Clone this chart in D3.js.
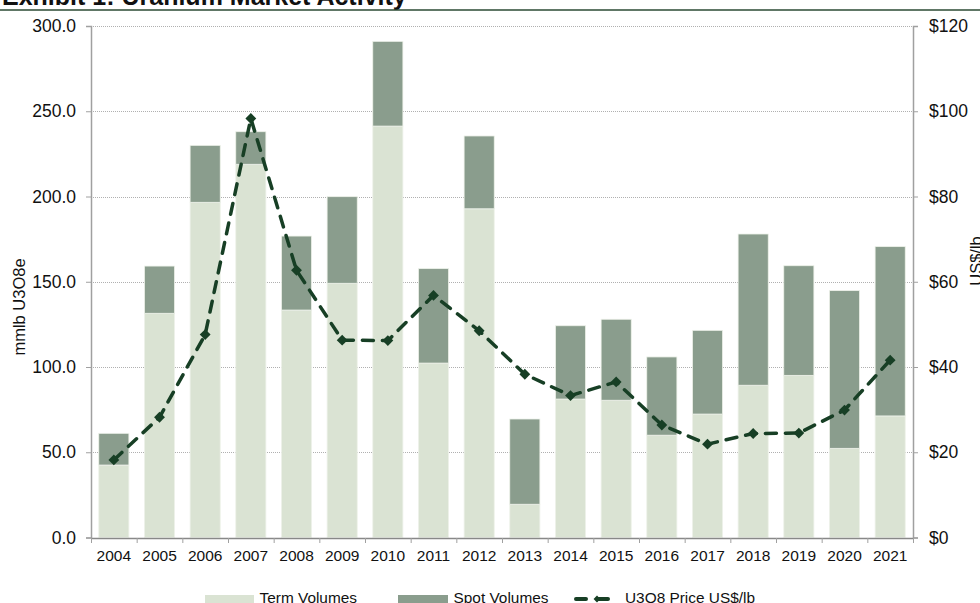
<!DOCTYPE html>
<html>
<head>
<meta charset="utf-8">
<script src="https://cdn.jsdelivr.net/npm/d3@7"></script>
<style>
  body { margin: 0; background: #fff; }
  svg { display: block; font-family: Arial, "Liberation Sans", sans-serif; }
</style>
</head>
<body>
<div id="chart"></div>
<script>
// chart data
const years = ["2004","2005","2006","2007","2008","2009","2010","2011","2012",
               "2013","2014","2015","2016","2017","2018","2019","2020","2021"];
const termVolumes = [42.5, 131.5, 196.6, 218.9, 133.4, 149.1, 241.3, 102.3, 192.8,
                     19.5, 81.2, 80.5, 60.0, 72.4, 89.3, 95.1, 52.3, 71.3];
const spotVolumes = [18.6, 27.7, 33.4, 19.1, 43.4, 50.8, 49.7, 55.4, 42.7,
                     50.0, 43.0, 47.5, 45.9, 49.1, 88.7, 64.3, 92.5, 99.3];
const u3o8Price = [18.2, 28.2, 47.6, 98.3, 62.7, 46.3, 46.2, 56.8, 48.5,
                   38.3, 33.3, 36.5, 26.4, 21.9, 24.4, 24.5, 29.9, 41.6];
const leftTicks = [0, 50, 100, 150, 200, 250, 300];
const rightTicks = [0, 20, 40, 60, 80, 100, 120];

const width = 980;
const height = 603;
const margin = {left: 91, right: 67, top: 26, bottom: 65};

const termColor = "#dae3d3";
const spotColor = "#8a9d8d";
const lineColor = "#173f25";
const axisColor = "#a0a0a0";
const textColor = "#111";

const svg = d3.select("#chart")
  .append("svg")
  .attr("width", width)
  .attr("height", height);

// title (cropped at the top in the original)
svg.append("text")
  .attr("x", 2)
  .attr("y", 4.5)
  .style("font-size", "25px")
  .style("font-weight", "bold")
  .style("fill", textColor)
  .text("Exhibit 1: Uranium Market Activity");

svg.append("line")
  .attr("x1", 0).attr("x2", width)
  .attr("y1", 10).attr("y2", 10)
  .attr("stroke", "#2b4a33")
  .attr("stroke-width", 1.5);

const x = d3.scaleBand()
  .domain(years)
  .range([margin.left, width - margin.right])
  .paddingInner(0.34)
  .paddingOuter(0.17);

const yLeft = d3.scaleLinear()
  .domain([0, 300])
  .range([height - margin.bottom - 0.5, margin.top]);

const yRight = d3.scaleLinear()
  .domain([0, 120])
  .range([height - margin.bottom - 0.5, margin.top]);

// gridlines
svg.append("g")
  .selectAll("line")
  .data(leftTicks.slice(1))
  .join("line")
  .attr("x1", margin.left)
  .attr("x2", width - margin.right)
  .attr("y1", d => Math.round(yLeft(d)) + 0.5)
  .attr("y2", d => Math.round(yLeft(d)) + 0.5)
  .attr("stroke", "#b0b0b0")
  .attr("stroke-width", 1)
  .attr("stroke-dasharray", "1,1");

// stacked bars
const stackData = years.map((y, i) => ({year: y, term: termVolumes[i], spot: spotVolumes[i]}));
const series = d3.stack().keys(["term", "spot"])(stackData);
const colors = {term: termColor, spot: spotColor};

svg.append("g")
  .selectAll("g")
  .data(series)
  .join("g")
  .attr("fill", d => colors[d.key])
  .selectAll("rect")
  .data(d => d)
  .join("rect")
  .attr("x", d => x(d.data.year))
  .attr("y", d => yLeft(d[1]))
  .attr("width", x.bandwidth())
  .attr("height", d => yLeft(d[0]) - yLeft(d[1]))
  .attr("stroke", "#eef2ea")
  .attr("stroke-width", 0.8);

// left axis
const leftAxis = svg.append("g")
  .attr("transform", `translate(${margin.left},0)`)
  .call(d3.axisLeft(yLeft).tickValues(leftTicks).tickFormat(d3.format(".1f")).tickSize(5).tickPadding(10));

// right axis
const rightAxis = svg.append("g")
  .attr("transform", `translate(${width - margin.right},0)`)
  .call(d3.axisRight(yRight).tickValues(rightTicks).tickFormat(d => "$" + d).tickSize(5).tickPadding(11));

// bottom axis, ticks at category boundaries
const bottomAxis = svg.append("g")
  .attr("transform", `translate(0,${height - margin.bottom})`)
  .call(d3.axisBottom(x).tickSize(0).tickPadding(12));

const step = x.step();
svg.append("g")
  .selectAll("line")
  .data(d3.range(years.length + 1))
  .join("line")
  .attr("x1", i => margin.left + i * step + 0.5)
  .attr("x2", i => margin.left + i * step + 0.5)
  .attr("y1", height - margin.bottom)
  .attr("y2", height - margin.bottom + 5)
  .attr("stroke", axisColor);

[leftAxis, rightAxis, bottomAxis].forEach(g => {
  g.select(".domain").attr("stroke", axisColor).attr("stroke-width", 1.5);
  g.selectAll(".tick line").attr("stroke", axisColor);
  g.selectAll("text").style("fill", textColor)
    .style("font-family", "Arial, 'Liberation Sans', sans-serif");
});
leftAxis.selectAll("text").style("font-size", "17.5px");
rightAxis.selectAll("text").style("font-size", "17.5px");
bottomAxis.selectAll("text").style("font-size", "15.5px");
bottomAxis.select(".domain").attr("stroke", "#888");

// axis titles
svg.append("text")
  .attr("transform", "translate(25,307) rotate(-90)")
  .attr("text-anchor", "middle")
  .style("font-size", "16.5px")
  .style("fill", textColor)
  .text("mmlb U3O8e");

svg.append("text")
  .attr("transform", "translate(982,261) rotate(-90)")
  .attr("text-anchor", "middle")
  .style("font-size", "16.5px")
  .style("fill", textColor)
  .text("US$/lb");

// price line
const line = d3.line()
  .x((d, i) => x(years[i]) + x.bandwidth() / 2)
  .y(d => yRight(d));

svg.append("path")
  .datum(u3o8Price)
  .attr("d", line)
  .attr("fill", "none")
  .attr("stroke", lineColor)
  .attr("stroke-width", 3.5)
  .attr("stroke-linecap", "round")
  .attr("stroke-dasharray", "11,9");

svg.append("g")
  .selectAll("path")
  .data(u3o8Price)
  .join("path")
  .attr("transform", (d, i) => `translate(${x(years[i]) + x.bandwidth() / 2},${yRight(d)})`)
  .attr("d", d3.symbol(d3.symbolDiamond2, 75))
  .attr("fill", lineColor);

// legend
const legend = svg.append("g");
const legendFont = "15.4px";
const legendBase = 603;

legend.append("rect")
  .attr("x", 205).attr("y", 595)
  .attr("width", 49).attr("height", 10)
  .attr("fill", termColor);
legend.append("text")
  .attr("x", 259.5).attr("y", legendBase)
  .style("font-size", legendFont).style("fill", textColor)
  .text("Term Volumes");

legend.append("rect")
  .attr("x", 398).attr("y", 595)
  .attr("width", 50).attr("height", 10)
  .attr("fill", spotColor);
legend.append("text")
  .attr("x", 453.5).attr("y", legendBase)
  .style("font-size", legendFont).style("fill", textColor)
  .text("Spot Volumes");

legend.append("line")
  .attr("x1", 576).attr("x2", 617)
  .attr("y1", 599).attr("y2", 599)
  .attr("stroke", lineColor)
  .attr("stroke-width", 4)
  .attr("stroke-linecap", "round")
  .attr("stroke-dasharray", "10,12");
legend.append("path")
  .attr("transform", "translate(597,599)")
  .attr("d", d3.symbol(d3.symbolDiamond2, 30))
  .attr("fill", lineColor);
legend.append("text")
  .attr("x", 625).attr("y", legendBase)
  .style("font-size", legendFont).style("fill", textColor)
  .text("U3O8 Price US$/lb");
</script>
</body>
</html>
